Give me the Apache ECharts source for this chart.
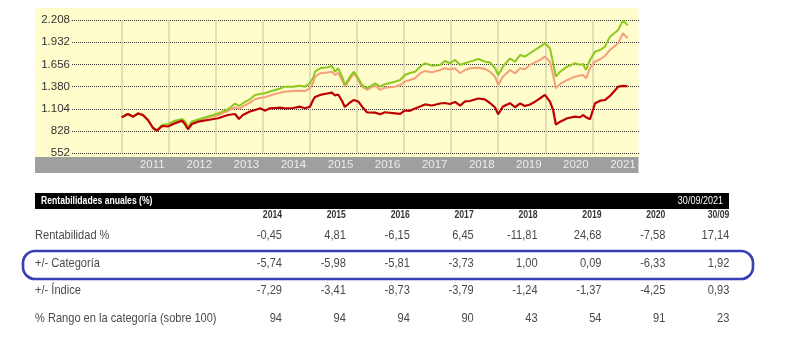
<!DOCTYPE html>
<html><head><meta charset="utf-8">
<script src="https://cdn.jsdelivr.net/npm/echarts@6/dist/echarts.min.js"></script>
<style>html,body{margin:0;padding:0;background:#fff}#c{width:785px;height:342px}</style>
</head><body><div id="c"></div>
<script>
// months since Jan 2011
const months = [0,1.6,2.9,4.2,5.4,6.7,8.0,9.0,10.3,11.8,13.6,15.4,16.1,16.9,17.9,19.5,22.0,24.6,27.1,28.9,29.9,30.9,32.7,34.0,35.3,36.5,37.8,39.1,40.4,41.6,43.7,45.5,46.7,48.0,48.8,49.3,50.6,52.4,53.6,54.4,55.2,56.2,56.9,58.2,59.2,60.3,61.3,62.6,64.6,65.9,67.1,69.7,71.0,72.2,73.5,74.8,76.1,77.3,79.1,81.2,82.4,83.7,85.0,86.3,87.5,88.8,90.9,92.6,93.9,95.2,96.0,97.2,99.0,100.3,101.6,102.8,104.1,105.4,106.7,107.9,109.2,110.0,110.7,111.8,113.6,115.6,116.9,117.6,118.4,119.4,120.7,122.0,123.2,124.5,126.6,127.8,129.0];
const fundSeries = [1000,1041,1007,1047,1028,966,866,832,891,885,925,957,916,850,916,945,966,987,1028,1040,978,1028,1072,1090,1111,1082,1111,1115,1119,1111,1115,1131,1111,1131,1214,1252,1277,1295,1305,1270,1283,1202,1127,1183,1214,1196,1131,1059,1057,1037,1062,1049,1041,1084,1080,1109,1134,1159,1146,1171,1177,1165,1190,1144,1196,1202,1233,1221,1177,1121,1037,1134,1174,1124,1171,1140,1159,1193,1236,1277,1193,1090,910,945,987,1007,1000,1028,1000,975,1174,1206,1214,1264,1380,1389,1385];
const greenSeries = [1000,1041,1007,1047,1028,966,866,838,904,916,957,978,953,879,947,972,1009,1047,1099,1171,1140,1174,1223,1277,1289,1298,1320,1339,1357,1380,1380,1392,1380,1422,1488,1566,1609,1621,1637,1566,1609,1504,1401,1504,1566,1484,1401,1360,1422,1380,1410,1442,1463,1525,1550,1566,1628,1671,1641,1650,1699,1671,1712,1650,1671,1691,1724,1691,1681,1609,1525,1628,1730,1691,1774,1753,1795,1836,1877,1919,1857,1671,1504,1566,1628,1671,1650,1662,1587,1712,1815,1836,1877,2001,2085,2203,2141];
const orangeSeries = [1000,1041,1007,1047,1028,966,866,835,898,910,941,966,941,873,935,960,995,1028,1078,1124,1103,1134,1181,1223,1239,1248,1270,1289,1304,1318,1326,1330,1326,1360,1426,1504,1546,1556,1566,1525,1550,1463,1380,1472,1546,1463,1380,1339,1395,1339,1367,1380,1401,1442,1463,1484,1546,1575,1559,1587,1609,1594,1609,1546,1587,1609,1616,1600,1566,1504,1401,1504,1587,1546,1609,1596,1650,1681,1712,1753,1691,1525,1360,1413,1463,1504,1519,1525,1484,1609,1691,1720,1761,1836,1919,2044,1981];
const yTicks = [552,828,1104,1380,1656,1932,2208];
const years = [2011,2012,2013,2014,2015,2016,2017,2018,2019,2020,2021];

const tableTitle = 'Rentabilidades anuales (%)';
const tableDate = '30/09/2021';
const tableCols = ['2014','2015','2016','2017','2018','2019','2020','30/09'];
const rowLabels = ['Rentabilidad %','+/- Categoría','+/- Índice','% Rango en la categoría (sobre 100)'];
const rowRentabilidad = ['-0,45','4,81','-6,15','6,45','-11,81','24,68','-7,58','17,14'];
const rowCategoria = ['-5,74','-5,98','-5,81','-3,73','1,00','0,09','-6,33','1,92'];
const rowIndice = ['-7,29','-3,41','-8,73','-3,79','-1,24','-1,37','-4,25','0,93'];
const rowRango = ['94','94','94','90','43','54','91','23'];
const rowValues = [rowRentabilidad, rowCategoria, rowIndice, rowRango];

const SANS = '"Liberation Sans",Arial,sans-serif';
const NARROW_SCALE = 0.82;

function fmtThousands(v){
  v = Math.round(v);
  return v >= 1000 ? Math.floor(v/1000) + '.' + String(v%1000).padStart(3,'0') : String(v);
}
function narrowText(text, x, y, opts){
  return {type:'text', z:11, x:x, y:y, scaleX:NARROW_SCALE, scaleY:1,
    style:Object.assign({text:text, x:0, y:0, fontFamily:SANS, verticalAlign:'middle'}, opts)};
}

const graphics = [];
graphics.push({type:'rect', z:-10, shape:{x:35,y:8,width:603.5,height:149}, style:{fill:'#fffdcc'}});
graphics.push({type:'rect', z:-5, shape:{x:35,y:157,width:603.5,height:16}, style:{fill:'#9f9f9f'}});
// table
const colRight0 = 282, colStep = 63.9;
graphics.push({type:'rect', z:10, shape:{x:35,y:193,width:694,height:16}, style:{fill:'#000'}});
graphics.push(narrowText(tableTitle, 41, 201, {fill:'#fff', fontWeight:'bold', fontSize:10.5, align:'left'}));
graphics.push(narrowText(tableDate, 723, 201, {fill:'#fff', fontSize:11, align:'right'}));
tableCols.forEach((c,i)=>{
  graphics.push(narrowText(c, colRight0+i*colStep, 215.5, {fill:'#333', fontWeight:'bold', fontSize:10.5, align:'right'}));
});
const rowY = [235, 263, 290.5, 318];
rowLabels.forEach((l,r)=>{
  graphics.push(narrowText(l, 35, rowY[r], {fill:'#4a4a4a', fontSize:13.5, align:'left'}));
  rowValues[r].forEach((v,i)=>{
    graphics.push(narrowText(v, colRight0+i*colStep, rowY[r], {fill:'#4a4a4a', fontSize:13.5, align:'right'}));
  });
});
graphics.push({type:'rect', z:12, shape:{x:23,y:251,width:730,height:28,r:12}, style:{fill:'none', stroke:'#3a3eb3', lineWidth:2.6}});

const toPairs = arr => months.map((m,i)=>[m, arr[i]]);

const chart = echarts.init(document.getElementById('c'), null, {renderer:'canvas'});
chart.setOption({
  animation:false,
  backgroundColor:'#fff',
  grid:{left:72, right:145.6, top:20, bottom:188.7, containLabel:false},
  xAxis:{
    type:'value', min:-12.67, max:132,
    axisLine:{show:false},
    axisTick:{show:false, customValues: years.map(y=>(y-2011)*12)},
    splitLine:{show:true, lineStyle:{color:'#d9d6ac', width:1.5}},
    axisLabel:{customValues: years.map(y=>(y-2011)*12+7.8), formatter: v => String(2011+Math.floor(v/12)),
      color:'#ececec', fontFamily:SANS, fontSize:11.5, margin:11.7, verticalAlign:'middle'}
  },
  yAxis:{
    type:'value', min:yTicks[0], max:yTicks[yTicks.length-1], interval:yTicks[1]-yTicks[0],
    axisLine:{show:false}, axisTick:{show:false},
    splitLine:{show:true, lineStyle:{color:'#333', type:[1,1], width:1}},
    axisLabel:{formatter: fmtThousands, color:'#333', fontFamily:SANS, fontSize:11.5, margin:2}
  },
  graphic:{elements:graphics},
  series:[
    {type:'line', data:toPairs(orangeSeries), showSymbol:false, lineStyle:{color:'#f5a07a', width:2}, z:3},
    {type:'line', data:toPairs(greenSeries), showSymbol:false, lineStyle:{color:'#8dc81e', width:2}, z:4},
    {type:'line', data:toPairs(fundSeries), showSymbol:false, lineStyle:{color:'#c00000', width:2.2}, z:5}
  ]
});
</script></body></html>
